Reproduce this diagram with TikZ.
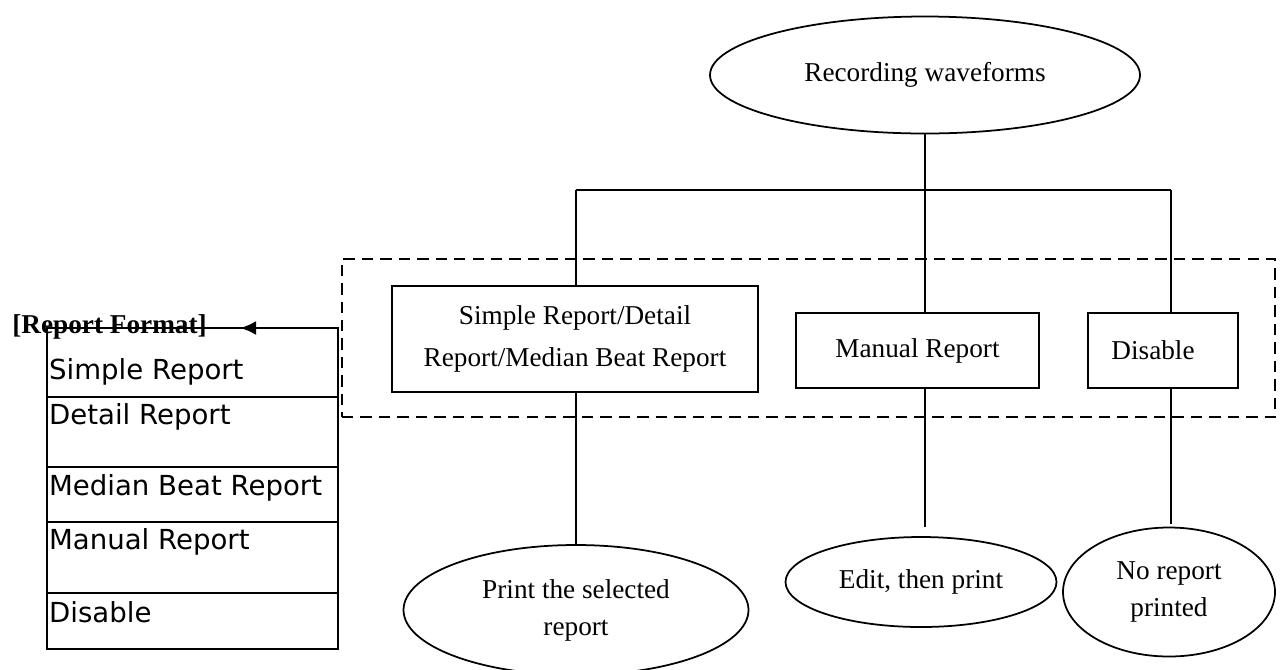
\documentclass[tikz,border=0pt]{standalone}
\usepackage{fontspec}
\setmainfont{Liberation Serif}
\newfontfamily\tablefont{DejaVu Sans}
\usetikzlibrary{arrows.meta,shapes.geometric}
\tikzset{
  link/.style={line width=1pt,draw=black},
  trunk/.style={line width=1.5pt,draw=black},
  pointer/.style={-{Latex[length=3.2mm,width=2.8mm]},line width=1.5pt},
  stepbox/.style={rectangle,draw,line width=1pt,inner sep=0pt,align=center,font=\fontsize{15.5}{24}\selectfont},
  outcome/.style={ellipse,draw,line width=1pt,inner sep=0pt,align=center,font=\fontsize{15.5}{21}\selectfont},
  groupframe/.style={draw,dash pattern=on 6.5pt off 4pt,line width=1pt},
  cell/.style={rectangle,draw,line width=1pt,anchor=north west,minimum width=5.82cm,inner sep=0pt,outer sep=0pt},
  celltext/.style={anchor=west,font=\tablefont\fontsize{15.7}{18}\selectfont,inner sep=1pt}
}

\begin{document}
\begin{tikzpicture}
\useasboundingbox (0,0) rectangle (25.64,-13.38);

% top of the tree
\node[outcome,minimum width=8.6cm,minimum height=2.34cm] (rec) at (18.50,-1.50)
  {Recording waveforms};

\coordinate (lbr) at (11.52,-3.80);
\coordinate (rbr) at (23.42,-3.80);

% report modes
\node[groupframe,minimum width=18.66cm,minimum height=3.16cm] (modes) at (16.17,-6.76) {};

\node[stepbox,minimum width=7.32cm,minimum height=2.12cm] (simple) at (11.50,-6.78)
  {Simple Report/Detail\\Report/Median Beat Report};
\node[stepbox,minimum width=4.86cm,minimum height=1.50cm] (manual) at (18.35,-7.01)
  {Manual Report};
\node[stepbox,minimum width=3.00cm,minimum height=1.50cm] (disable) at (23.26,-7.01)
  {Disable\hspace*{0.4cm}};

% outcomes
\node[outcome,minimum width=6.9cm,minimum height=2.6cm] (print) at (11.52,-12.20)
  {Print the selected\\report};
\node[outcome,minimum width=5.42cm,minimum height=1.80cm] (edit) at (18.42,-11.64)
  {Edit, then print};
\node[outcome,minimum width=4.24cm,minimum height=2.58cm] (norep) at (23.38,-11.84)
  {No report\\printed};

% connectors
\draw[trunk] (rec.south) -- (rec.south |- manual.north);
\draw[link] (lbr) -- (rbr);
\draw[link] (lbr) -- (lbr |- simple.north);
\draw[link] (rbr) -- (rbr |- disable.north);
\draw[link] (lbr |- simple.south) -- (lbr |- print.north);
\draw[link,shorten >=0.18cm] (rec.south |- manual.south) -- (rec.south |- edit.north);
\draw[link,shorten >=0.06cm] (rbr |- disable.south) -- (rbr |- norep.north);

% left table
\foreach \i/\top/\h/\lab/\dy in {1/6.56/1.38/Simple Report/0.88,
    2/7.94/1.40/Detail Report/0.40, 3/9.34/1.10/Median Beat Report/0.42,
    4/10.44/1.42/Manual Report/0.40, 5/11.86/1.12/Disable/0.38}{
  \node[cell,minimum height=\h cm,label={[celltext,yshift=-\dy cm]north west:\lab}] (row\i) at (0.94,-\top) {};
}

% format heading
\node[font=\bfseries\fontsize{15.5}{18}\selectfont,anchor=west,inner sep=0pt] (fmt) at (0.24,-6.54)
  {[Report Format]};
\coordinate (fmttip) at (4.80,-6.56);
\draw[pointer] (row1.north east) -- (fmttip);

\end{tikzpicture}
\end{document}
